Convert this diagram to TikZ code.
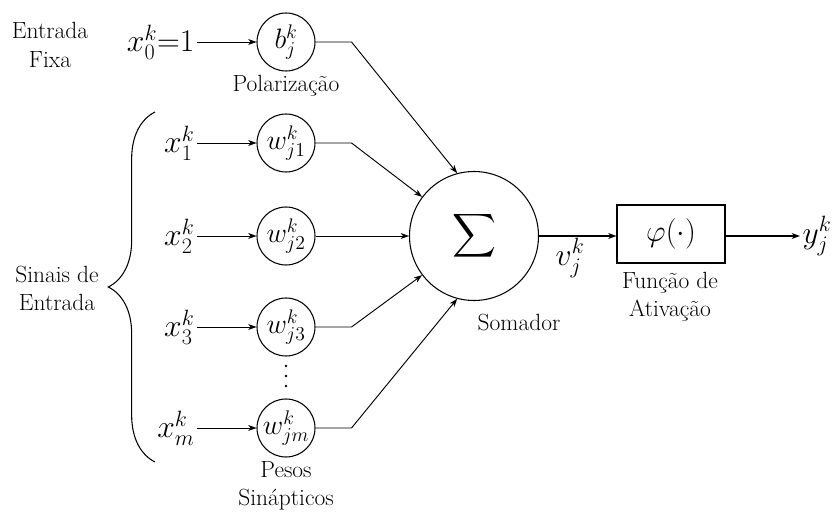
\documentclass[tikz,border=0pt]{standalone}
\usepackage{amsmath,amssymb}
\usepackage{fix-cm}
\usepackage{tikz}
\usetikzlibrary{positioning,arrows.meta,decorations.pathreplacing}

\begin{document}
\begin{tikzpicture}[
  x=0.03cm, y=-0.03cm,
  font=\fontsize{20}{24}\selectfont,
  lbl/.style={align=center, inner sep=1pt},
  inp/.style={font=\fontsize{27}{30}\selectfont, inner sep=2pt},
  wgt/.style={draw, circle, line width=0.9pt, minimum size=1.74cm, inner sep=0pt,
              font=\fontsize{24}{28}\selectfont},
  sumnode/.style={draw, circle, line width=0.9pt, minimum size=3.87cm, inner sep=0pt,
                  font=\fontsize{26}{30}\selectfont},
  actbox/.style={draw, line width=0.9pt, minimum width=3.24cm, minimum height=1.74cm,
                 inner sep=0pt, font=\fontsize{26}{30}\selectfont},
  arr/.style={-{Stealth[length=7pt, width=5pt, inset=2pt]}, line width=0.8pt},
  outarr/.style={arr, line width=1.6pt},
  brc/.style={decorate, decoration={brace, amplitude=1.4cm}, line width=0.9pt},
]
\useasboundingbox (0,0) rectangle (839,516);
% ---- fixed input and bias ---------------------------------------------
\node[lbl] (fixa) at (50,45) {Entrada\\Fixa};
\node[inp, anchor=east] (x0) at (197,42) {$x_0^k{=}1$};
\node[wgt] (b) at (286,42) {$b_j^k$};
\node[lbl, below=2pt of b] (pol) {Polarização};
% ---- input signals and weights ----------------------------------------
\foreach \i/\yy in {1/143, 2/236, 3/327, m/428}{
  \node[inp, anchor=east] (x\i) at (197,\yy) {$x_{\i}^k$};
  \node[wgt] (w\i) at (286,\yy) {$w_{j\i}^k$};
}
\foreach \d in {366,376,386}
  \fill (286,\d) circle (1.1pt);
\node[lbl, below=2pt of wm] (pesos) {Pesos\\Sinápticos};
\coordinate (bb) at (155,462);
\coordinate (bt) at (155,112);
\draw[brc] (bb) -- (bt);
\node[lbl] (sinais) at (57,288) {Sinais de\\Entrada};
% ---- summing junction and activation ----------------------------------
\node[sumnode] (sum) at (474,236) {$\displaystyle\sum$};
\node[lbl] (som) at (519,322) {Somador};
\node[inp] (v) at (570,258) {$v_j^k$};
\node[actbox] (act) at (671,234) {$\varphi(\cdot)$};
\node[lbl] (fat) at (670,297) {Função de\\Ativação};
\node[inp, anchor=west] (y) at (800,236) {$y_j^k$};
% ---- edges ------------------------------------------------------------
\draw[arr] (x0.east |- b.west) -- (b.west);
\foreach \i in {1,2,3,m}
  \draw[arr] (x\i.east |- w\i.west) -- (w\i.west);
\draw[arr] (b.east) -- ++(36,0) -- (sum.105);
\draw[arr] (w1.east) -- ++(36,0) -- (sum.143);
\draw[arr] (w2.east) -- (sum.west);
\draw[arr] (w3.east) -- ++(36,0) -- (sum.217);
\draw[arr] (wm.east) -- ++(36,0) -- (sum.255);
\draw[outarr] (sum.east) -- (sum.east -| act.west);
\draw[outarr] (act.east |- sum.east) -- (y.west);
\end{tikzpicture}
\end{document}
